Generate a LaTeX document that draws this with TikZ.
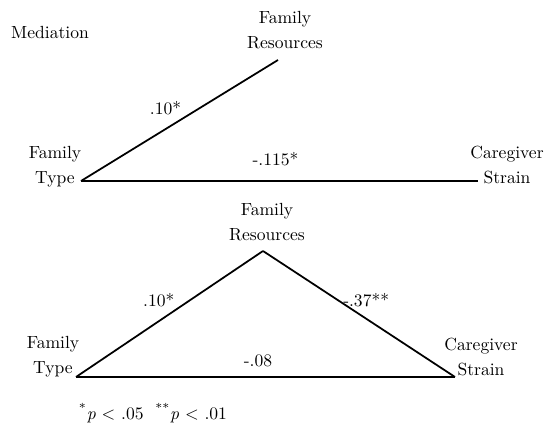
\documentclass[tikz,border=0pt]{standalone}
\usepackage{tikz}
\usetikzlibrary{positioning}

\begin{document}
\begin{tikzpicture}[
      x=0.02cm, y=-0.02cm,
      var/.style={align=center,font=\fontsize{10}{14}\selectfont,inner sep=0pt},
      coef/.style={font=\fontsize{10}{12}\selectfont,inner sep=0pt},
      link/.style={line width=1pt}
    ]
    \useasboundingbox (0,0) rectangle (551,425);
    \node[coef] (title) at (50,33) {Mediation};

    % total effect (upper model)
    \coordinate (ftA) at (81,181);
    \coordinate (frA) at (278,60);
    \coordinate (csA) at (478,181);
    \node[var] (ftlabA) at (55,167) {Family\\Type};
    \node[var] (frlabA) at (285,30) {Family\\Resources};
    \node[var] (cslabA) at (507,165) {Caregiver\\Strain};

    \draw[link] (ftA) -- node[coef,pos=0.54,anchor=south east,xshift=-3pt]{.10*} (frA);
    \draw[link] (ftA) -- node[coef,pos=0.49,above=8pt]{-.115*} (csA);

    % mediated model (lower)
    \coordinate (ftB) at (76,377);
    \coordinate (frB) at (263,251);
    \coordinate (csB) at (455,377);
    \node[var] (ftlabB) at (53,357) {Family\\Type};
    \node[var] (frlabB) at (267,222) {Family\\Resources};
    \node[var] (cslabB) at (481,357) {Caregiver\\Strain};

    \draw[link] (ftB) -- node[coef,pos=0.55,anchor=south east,xshift=-2pt]{.10*} (frB);
    \draw[link] (frB) -- node[coef,pos=0.45,anchor=south west,xshift=-4pt]{-.37**} (csB);
    \draw[link] (ftB) -- node[coef,pos=0.48,above=5pt]{-.08} (csB);

    \node[coef] (note) at (153,413) {\textsuperscript{*}\textit{p} < .05\ \ \textsuperscript{**}\textit{p} < .01};
  \end{tikzpicture}
\end{document}
